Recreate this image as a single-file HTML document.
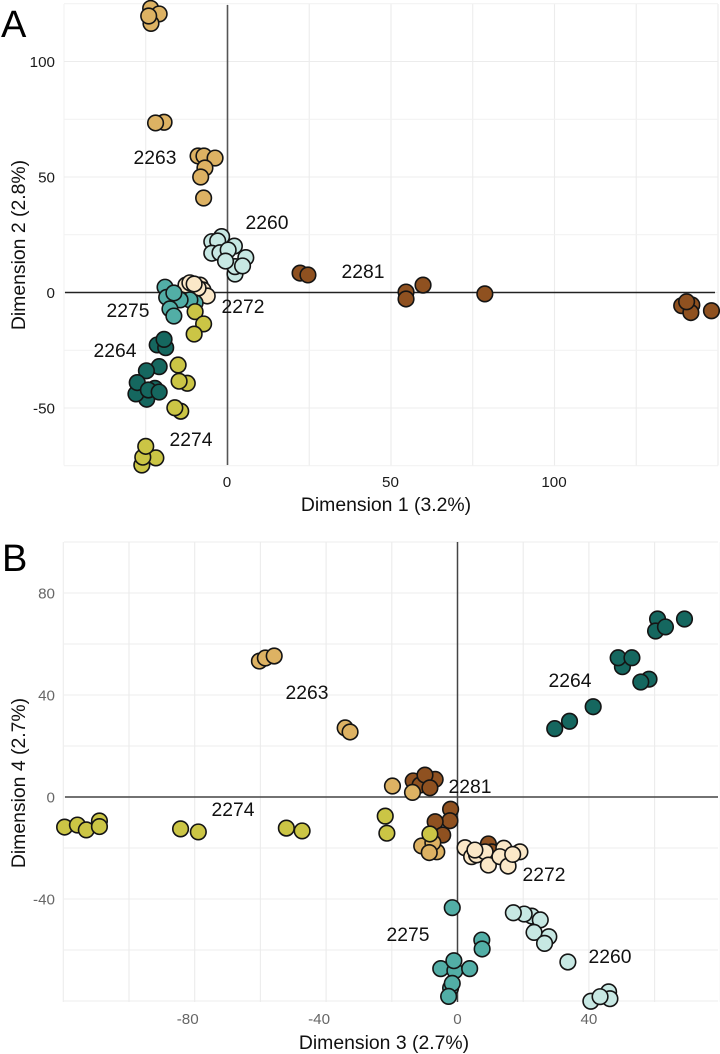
<!DOCTYPE html>
<html lang="en">
<head>
<meta charset="utf-8">
<title>Dimension scatter plots</title>
<style>
html,body{margin:0;padding:0;background:#fff;width:720px;height:1054px;overflow:hidden}
svg{display:block;font-family:"Liberation Sans",Arial,sans-serif}
</style>
</head>
<body>
<svg id="chart" xmlns="http://www.w3.org/2000/svg" width="720" height="1054" viewBox="0 0 720 1054"></svg>
<script>
// Panel A: dimension 1 (x) and dimension 2 (y)
const seriesOrder = ['2281', '2260', '2263', '2264', '2272', '2275', '2274'];
const a2281x = [22.2, 24.6, 54.6, 54.6, 59.8, 78.7, 138.9, 142.0, 141.7, 140.4, 148.0];
const a2281y = [8.4, 7.6, 0.2, -2.8, 3.2, -0.6, -5.7, -5.4, -8.7, -4.0, -7.9];
const a2260x = [-1.8, -4.8, -3.0, 2.1, -4.8, -2.3, 0.2, 2.3, 2.3, -0.6, 5.6, 4.6];
const a2260y = [24.2, 22.0, 22.3, 20.1, 17.0, 17.2, 18.4, 8.0, 11.2, 13.6, 15.1, 11.5];
const a2263x = [-23.5, -20.9, -23.4, -24.1, -19.4, -22.0, -9.0, -7.2, -3.8, -6.9, -8.2, -7.3];
const a2263y = [123.0, 120.6, 116.5, 119.7, 73.7, 73.4, 59.1, 59.1, 58.2, 53.9, 50.0, 40.9];
const a2264x = [-21.5, -18.9, -19.4, -20.9, -24.8, -24.7, -28.0, -27.6, -22.2, -24.2, -20.9];
const a2264y = [-22.7, -23.9, -20.3, -32.1, -33.9, -46.2, -43.9, -39.0, -41.5, -42.2, -43.1];
const a2272x = [-12.7, -11.5, -8.4, -7.5, -6.2, -9.0, -10.2];
const a2272y = [3.2, 4.2, 3.2, 1.1, -1.5, 1.9, 3.7];
const a2275x = [-9.9, -11.5, -19.1, -18.6, -14.5, -16.4, -17.6, -16.4];
const a2275y = [-4.5, -3.2, 2.3, -2.1, -3.2, -0.2, -7.1, -10.2];
const a2274x = [-9.9, -7.3, -10.2, -15.1, -12.3, -14.8, -14.3, -16.1, -21.9, -26.2, -25.9, -25.0];
const a2274y = [-8.3, -13.6, -18.0, -31.4, -39.3, -38.4, -51.4, -49.9, -71.6, -74.7, -71.3, -66.6];

// Panel B: dimension 3 (x) and dimension 4 (y)
const b2281x = [-13.5, -11.4, -6.8, -9.9, -8.4, -2.1, -2.3, -6.8, -4.5, 9.4, 10.4];
const b2281y = [6.3, 4.7, 6.9, 8.6, 3.6, -4.8, -9.3, -9.7, -14.9, -18.4, -21.5];
const b2260x = [22.6, 20.3, 17.0, 25.2, 27.8, 23.3, 26.5, 33.6, 46.0, 46.4, 40.6, 43.4];
const b2260y = [-46.7, -45.9, -45.4, -48.2, -54.8, -53.1, -57.4, -64.7, -76.4, -79.1, -80.1, -78.3];
const b2263x = [-60.3, -58.5, -55.8, -34.2, -32.7, -19.8, -13.7, -10.9, -6.3, -7.5, -8.6];
const b2263y = [53.3, 54.5, 55.3, 27.1, 25.5, 4.3, 1.8, -19.2, -21.5, -17.9, -21.8];
const b2264x = [29.6, 34.1, 41.3, 58.3, 55.8, 50.2, 48.9, 53.1, 60.9, 60.3, 63.3, 69.1];
const b2264y = [26.8, 29.7, 35.4, 46.2, 45.1, 51.1, 54.6, 54.6, 69.8, 65.1, 66.7, 69.8];
const b2272x = [2.3, 4.3, 5.8, 8.4, 5.3, 9.4, 14.1, 19.0, 12.9, 15.4, 16.8];
const b2272y = [-19.9, -23.4, -22.7, -21.5, -20.8, -26.7, -20.1, -21.5, -23.4, -27.1, -22.5];
const b2275x = [-1.6, 7.4, 7.5, -5.1, -0.8, 3.7, -1.1, -2.1, -1.6, -2.7];
const b2275y = [-43.4, -56.1, -59.6, -67.3, -68.1, -67.3, -64.2, -74.9, -73.1, -78.2];
const b2274x = [-119.6, -115.7, -113.0, -109.0, -109.0, -84.3, -78.9, -52.1, -47.3, -22.0, -21.5, -8.4];
const b2274y = [-11.8, -11.0, -12.9, -9.4, -11.6, -12.5, -13.7, -12.2, -13.3, -7.5, -14.2, -14.5];

// Axis ticks
const aXTicks = [0, 50, 100];
const aYTicks = [-50, 0, 50, 100];
const aXMajor = [-25, 0, 25, 50, 75, 100, 125, 150];
const aXMinor = [-50];
const aYMajor = [-50, 0, 50, 100];
const aYMinor = [-75, -25, 25, 75, 125];
const bXTicks = [-80, -40, 0, 40];
const bYTicks = [-40, 0, 40, 80];
const bXMajor = [-120, -100, -80, -60, -40, -20, 0, 20, 40, 60, 80];
const bYMajor = [-80, -60, -40, -20, 0, 20, 40, 60, 80, 100];

const ns = 'http://www.w3.org/2000/svg';
const svg = document.getElementById('chart');
const fills = {'2281':'#8F5120','2260':'#C7E8E3','2263':'#DDB263','2264':'#15675F','2272':'#FBE8C8','2275':'#52AEA6','2274':'#CBC545'};

const xA = v => 227.5 + v * 3.27;
const yA = v => 292.5 - v * 2.31;
const xB = v => 457.5 + v * 3.285;
const yB = v => 797 - v * 2.55;

function shape(tag, attrs, parent) {
  const el = document.createElementNS(ns, tag);
  for (const k in attrs) el.setAttribute(k, attrs[k]);
  (parent || svg).appendChild(el);
  return el;
}
function text(str, x, y, size, fill, anchor, parent, rotate) {
  const attrs = {x: x, y: y, 'font-size': size, fill: fill, 'text-anchor': anchor};
  if (rotate) attrs.transform = 'rotate(-90 ' + x + ' ' + y + ')';
  const el = shape('text', attrs, parent);
  el.textContent = str;
  return el;
}
function group(name) {
  const g = shape('g', {});
  
  
  return g;
}
function gridV(list, fx, top, bottom, color, parent) {
  list.forEach(v => {
    const l = shape('line', {x1: fx(v), x2: fx(v), y1: top, y2: bottom, stroke: color, 'stroke-width': 1.1}, parent);
    
    
  });
}
function gridH(list, fy, left, right, color, parent) {
  list.forEach(v => {
    const l = shape('line', {x1: left, x2: right, y1: fy(v), y2: fy(v), stroke: color, 'stroke-width': 1.1}, parent);
    
    
  });
}
function points(prefix, dataX, dataY, fx, fy) {
  const g = group(prefix + '-points');
  seriesOrder.forEach(s => {
    const xs = dataX[s];
    const ys = dataY[s];
    xs.forEach((v, i) => {
      const c = shape('circle', {cx: fx(v), cy: fy(ys[i]), r: 7.8, fill: fills[s], stroke: '#141414', 'stroke-width': 1.6}, g);
      
      
    });
  });
}
function label(str, x, y, parent) {
  const t = text(str, x, y, 19.3, '#111', 'middle', parent);
  
  
}

/* Panel A */
const gridA = group('panel-a-grid');
gridV(aXMajor, xA, 4, 465.5, '#ececec', gridA);
gridV(aXMinor, xA, 4, 465.5, '#f3f3f3', gridA);
gridH(aYMajor, yA, 64, 718, '#ececec', gridA);
gridH(aYMinor, yA, 64, 718, '#f1f1f1', gridA);
const zeroAV = shape('line', {x1: xA(0), x2: xA(0), y1: 5, y2: 465, stroke: '#555', 'stroke-width': 1.6});


const zeroAH = shape('line', {x1: 65, x2: 715, y1: yA(0), y2: yA(0), stroke: '#222', 'stroke-width': 1.5});


points('panel-a',
  {'2281':a2281x,'2260':a2260x,'2263':a2263x,'2264':a2264x,'2272':a2272x,'2275':a2275x,'2274':a2274x},
  {'2281':a2281y,'2260':a2260y,'2263':a2263y,'2264':a2264y,'2272':a2272y,'2275':a2275y,'2274':a2274y},
  xA, yA);
const labelsA = group('panel-a-labels');
label('2263', 155, 164, labelsA);
label('2260', 267, 229, labelsA);
label('2281', 363, 278, labelsA);
label('2275', 128, 317, labelsA);
label('2272', 243, 313, labelsA);
label('2264', 115, 357, labelsA);
label('2274', 191, 446, labelsA);
const axesA = group('panel-a-axes');
aXTicks.forEach(v => {
  const t = text(String(v), xA(v) - 0.5, 487, 15.2, '#1a1a1a', 'middle', axesA);
  
  
});
aYTicks.forEach(v => {
  const t = text(String(v), 55, yA(v) + 5.5, 15.2, '#1a1a1a', 'end', axesA);
  
  
});
const titleAX = text('Dimension 1 (3.2%)', 386, 511, 19.4, '#111', 'middle', axesA);


const titleAY = text('Dimension 2 (2.8%)', 25, 245, 19.4, '#111', 'middle', axesA, true);


const tagA = text('A', 1, 37, 38, '#000', 'start');



/* Panel B */
const gridB = group('panel-b-grid');
gridV(bXMajor, xB, 542, 1002, '#ececec', gridB);
gridH(bYMajor, yB, 64, 718, '#ececec', gridB);
const zeroBV = shape('line', {x1: xB(0), x2: xB(0), y1: 542, y2: 1002, stroke: '#444', 'stroke-width': 1.5});


const zeroBH = shape('line', {x1: 65, x2: 718, y1: yB(0), y2: yB(0), stroke: '#444', 'stroke-width': 1.5});


points('panel-b',
  {'2281':b2281x,'2260':b2260x,'2263':b2263x,'2264':b2264x,'2272':b2272x,'2275':b2275x,'2274':b2274x},
  {'2281':b2281y,'2260':b2260y,'2263':b2263y,'2264':b2264y,'2272':b2272y,'2275':b2275y,'2274':b2274y},
  xB, yB);
const labelsB = group('panel-b-labels');
label('2263', 307, 699, labelsB);
label('2264', 570, 687, labelsB);
label('2281', 470, 793, labelsB);
label('2274', 233, 816, labelsB);
label('2272', 544, 881, labelsB);
label('2275', 408, 941, labelsB);
label('2260', 610, 963, labelsB);
const axesB = group('panel-b-axes');
bXTicks.forEach(v => {
  const t = text(String(v), xB(v) - (v < 0 ? 7 : 0), 1024, 15.2, '#666', 'middle', axesB);
  
  
});
bYTicks.forEach(v => {
  const t = text(String(v), 55, yB(v) + 5.5, 15.2, '#666', 'end', axesB);
  
  
});
const titleBX = text('Dimension 3 (2.7%)', 384, 1049, 19.4, '#111', 'middle', axesB);


const titleBY = text('Dimension 4 (2.7%)', 25, 783, 19.4, '#111', 'middle', axesB, true);


const tagB = text('B', 2, 571, 38, '#000', 'start');


</script>
</body>
</html>
